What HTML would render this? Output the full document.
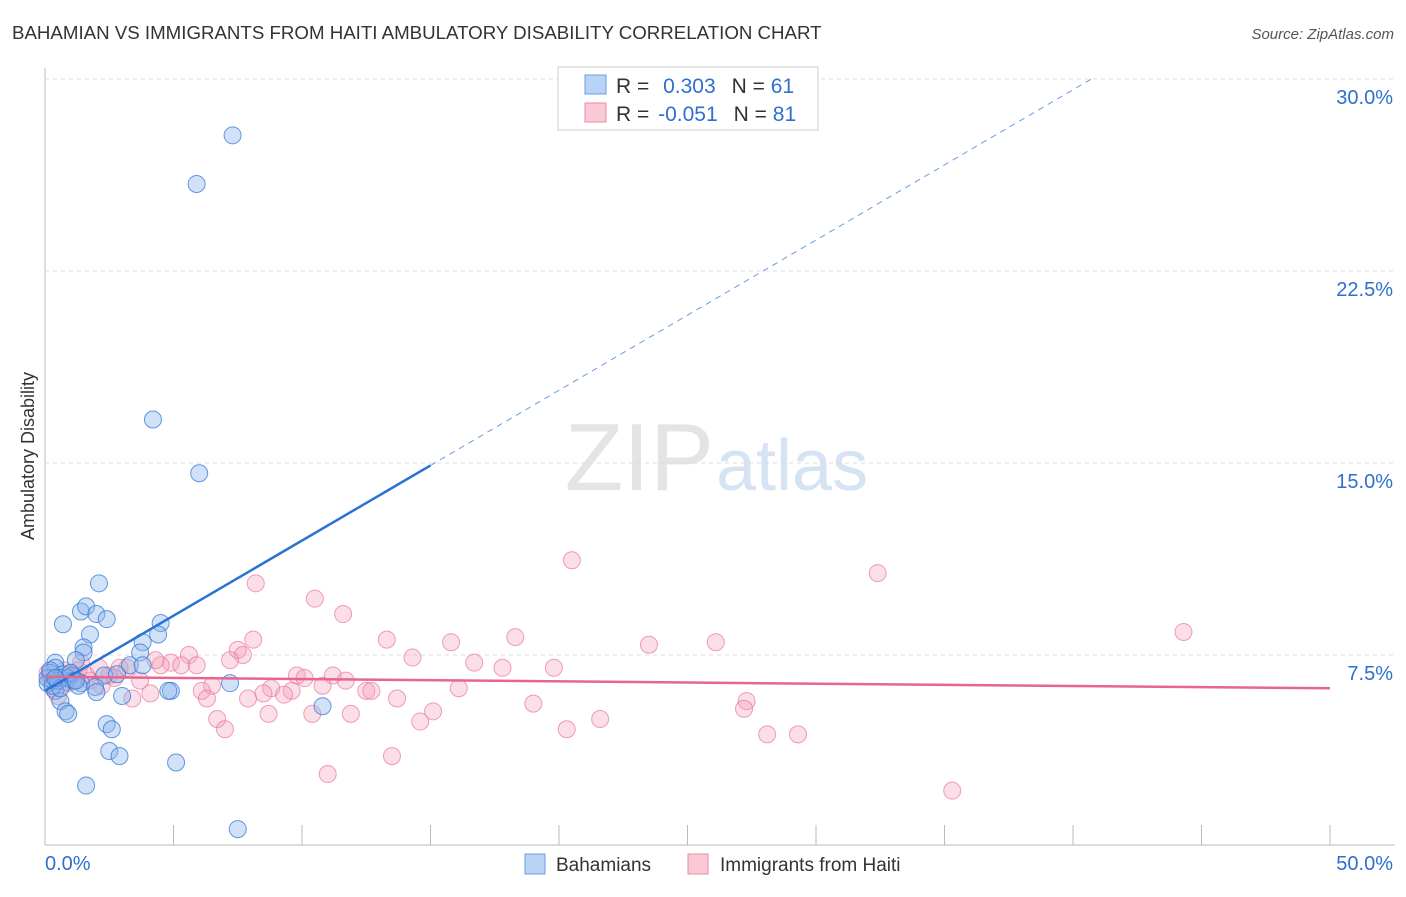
<!DOCTYPE html>
<html><head><meta charset="utf-8"><style>
body{margin:0;background:#fff;font-family:"Liberation Sans",sans-serif;}
svg text{font-family:"Liberation Sans",sans-serif;}
</style></head><body>
<svg width="1406" height="892" id="chart">
<text x="12" y="39" font-size="18.7" fill="#333">BAHAMIAN VS IMMIGRANTS FROM HAITI AMBULATORY DISABILITY CORRELATION CHART</text>
<text x="1394" y="39" font-size="15" fill="#555" font-style="italic" text-anchor="end">Source: ZipAtlas.com</text>
<text x="714" y="490" font-size="96" fill="#e4e4e4" text-anchor="end" font-family="Liberation Serif">ZIP</text>
<text x="716" y="490" font-size="72" fill="#d5e3f3">atlas</text>
<g id="grid"></g><g id="pts"></g><g id="lines"></g>
<text transform="translate(34,456) rotate(-90)" font-size="18" fill="#333" text-anchor="middle">Ambulatory Disability</text>
<g>
<rect x="558" y="67" width="260" height="63" fill="#fff" stroke="#ccc"/>
<rect x="585" y="75" width="21" height="19" fill="#b8d3f5" stroke="#6b9de0"/>
<rect x="585" y="103" width="21" height="19" fill="#f9c9d6" stroke="#ea8aa7"/>
<text x="616" y="93" font-size="21" fill="#333">R = <tspan fill="#2f6fd0" dx="8">0.303</tspan><tspan fill="#333" dx="16">N = </tspan><tspan fill="#2f6fd0">61</tspan></text>
<text x="616" y="121" font-size="21" fill="#333">R = <tspan fill="#2f6fd0" dx="3">-0.051</tspan><tspan fill="#333" dx="16">N = </tspan><tspan fill="#2f6fd0">81</tspan></text>
</g>
<g>
<rect x="525" y="854" width="20" height="20" fill="#b8d3f5" stroke="#6b9de0"/>
<text x="556" y="871" font-size="19" fill="#333">Bahamians</text>
<rect x="688" y="854" width="20" height="20" fill="#f9c9d6" stroke="#ea8aa7"/>
<text x="720" y="871" font-size="19" fill="#333">Immigrants from Haiti</text>
</g>
</svg>
<script>
const yTicks=[7.5,15,22.5,30];
const yTickLabels=["7.5%","15.0%","22.5%","30.0%"];
const xTicks=[0,5,10,15,20,25,30,35,40,45,50];
const blueX=[7.3,5.9,4.2,6.0,2.1,1.4,1.6,2.0,2.4,0.7,4.5,1.75,4.4,3.8,1.5,1.5,3.7,1.2,0.4,0.4,3.3,3.8,0.2,0.7,1.05,2.3,2.8,0.3,0.8,1.4,1.95,0.4,2.0,3.0,4.9,7.2,0.6,0.8,0.9,10.8,2.4,2.6,2.5,2.9,5.1,1.6,7.5,0.1,4.8,0.6,0.1,0.3,0.5,0.9,1.1,1.3,0.2,0.6,1.0,1.2,0.4];
const blueY=[27.8,25.9,16.7,14.6,10.3,9.2,9.4,9.1,8.9,8.7,8.75,8.3,8.3,8.0,7.8,7.6,7.6,7.3,7.2,7.0,7.1,7.1,6.8,6.75,6.7,6.7,6.75,6.5,6.45,6.4,6.25,6.1,6.05,5.9,6.1,6.4,5.7,5.3,5.2,5.5,4.8,4.6,3.75,3.55,3.3,2.4,0.7,6.4,6.1,6.6,6.6,6.3,6.5,6.6,6.5,6.3,6.9,6.2,6.8,6.5,6.6];
const pinkX=[20.5,32.4,8.2,10.5,11.6,44.3,18.3,8.1,13.3,15.8,23.5,26.1,7.5,5.6,7.7,14.3,7.2,16.7,17.8,19.8,4.9,4.5,5.3,5.9,3.2,2.9,4.3,9.8,10.1,11.2,11.7,10.8,8.8,9.6,8.5,9.3,12.5,12.7,16.1,6.5,6.1,4.1,3.4,6.3,7.9,13.7,19.0,27.3,27.2,15.1,10.4,8.7,11.9,6.7,7.0,14.6,21.6,20.3,28.1,29.3,13.5,11.0,35.3,0.5,1.4,2.1,2.5,1.2,1.75,0.75,3.7,0.2,0.9,1.0,1.6,2.2,0.3,0.6,1.3,2.7,0.1];
const pinkY=[11.2,10.7,10.3,9.7,9.1,8.4,8.2,8.1,8.1,8.0,7.9,8.0,7.7,7.5,7.5,7.4,7.3,7.2,7.0,7.0,7.2,7.1,7.1,7.1,7.0,7.0,7.3,6.7,6.6,6.7,6.5,6.3,6.2,6.1,6.0,5.95,6.1,6.1,6.2,6.3,6.1,6.0,5.8,5.8,5.8,5.8,5.6,5.7,5.4,5.3,5.2,5.2,5.2,5.0,4.6,4.9,5.0,4.6,4.4,4.4,3.55,2.85,2.2,5.9,7.2,7.0,6.7,6.6,6.5,6.9,6.5,6.6,6.4,6.8,6.7,6.3,6.2,6.5,6.9,6.6,6.8];
const blueFit=[6.1,0.587];
const pinkFit=[6.65,-0.009];
const NS="http://www.w3.org/2000/svg";
const sx=v=>45+v/50*1285;
const sy=v=>847-v*25.6;
function mk(t,a,p){const e=document.createElementNS(NS,t);for(const k in a)e.setAttribute(k,a[k]);p.appendChild(e);return e;}
const grid=document.getElementById('grid');
const ax=mk('line',{x1:45,y1:68,x2:45,y2:845,stroke:'#bbb'},grid);


const bx=mk('line',{x1:45,y1:845,x2:1395,y2:845,stroke:'#bbb'},grid);


yTicks.forEach((v,i)=>{
 const g=mk('line',{x1:45,y1:sy(v),x2:1395,y2:sy(v),stroke:'#ddd','stroke-dasharray':'4,4'},grid);
 
 
 const t=mk('text',{x:1393,y:sy(v)+25,'font-size':20,fill:'#2f6fd0','text-anchor':'end'},grid);
 t.textContent=yTickLabels[i];
 
 
});
xTicks.forEach(v=>{
 if(v===0)return;
 const l=mk('line',{x1:sx(v),y1:825,x2:sx(v),y2:845,stroke:'#bbb'},grid);
 
 
});
const x0=mk('text',{x:45,y:870,'font-size':20,fill:'#2f6fd0'},grid);x0.textContent='0.0%';


const x1=mk('text',{x:1393,y:870,'font-size':20,fill:'#2f6fd0','text-anchor':'end'},grid);x1.textContent='50.0%';


const pts=document.getElementById('pts');
pinkX.forEach((v,i)=>{
 const c=mk('circle',{cx:sx(v),cy:sy(pinkY[i]),r:8.5,fill:'rgba(244,160,186,0.35)',stroke:'rgba(232,120,155,0.7)','stroke-width':1},pts);
 
 
});
blueX.forEach((v,i)=>{
 const c=mk('circle',{cx:sx(v),cy:sy(blueY[i]),r:8.5,fill:'rgba(140,180,235,0.4)',stroke:'rgba(50,120,215,0.75)','stroke-width':1},pts);
 
 
});
const lines=document.getElementById('lines');
const bf=x=>blueFit[0]+blueFit[1]*x;
const xEnd=(30-blueFit[0])/blueFit[1];
const l1=mk('line',{x1:sx(0),y1:sy(bf(0)),x2:sx(15),y2:sy(bf(15)),stroke:'#2a72d6','stroke-width':2.5},lines);


const l2=mk('line',{x1:sx(15),y1:sy(bf(15)),x2:sx(xEnd),y2:sy(30),stroke:'#6a9be0','stroke-width':1,'stroke-dasharray':'6,5'},lines);


const pf=x=>pinkFit[0]+pinkFit[1]*x;
const l3=mk('line',{x1:sx(0),y1:sy(pf(0)),x2:sx(50),y2:sy(pf(50)),stroke:'#e8658f','stroke-width':2.5},lines);


</script>
</body></html>
